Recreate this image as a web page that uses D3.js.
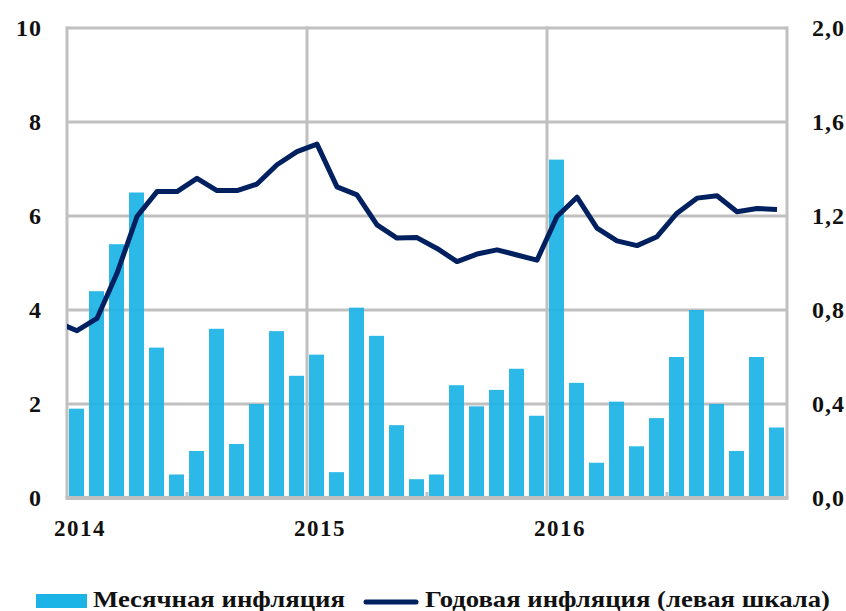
<!DOCTYPE html>
<html>
<head>
<meta charset="utf-8">
<script src="https://cdn.jsdelivr.net/npm/d3@7"></script>
<style>
  body { margin: 0; background: #fff; }
  svg text { font-family: "Liberation Serif", "DejaVu Serif", serif; font-weight: bold; fill: #111; }
</style>
</head>
<body>
<svg id="chart" width="846" height="611"></svg>
<script>
// months Jan 2014 .. Dec 2016
var months = [];
[2014, 2015, 2016].forEach(function(y) {
    for (var m = 1; m <= 12; m++) months.push(y + "-" + (m < 10 ? "0" + m : m));
});

// Monthly inflation (right scale, %)
var monthly = [0.38, 0.88, 1.08, 1.30, 0.64, 0.10, 0.20, 0.72, 0.23, 0.40, 0.71, 0.52,
               0.61, 0.11, 0.81, 0.69, 0.31, 0.08, 0.10, 0.48, 0.39, 0.46, 0.55, 0.35,
               1.44, 0.49, 0.15, 0.41, 0.22, 0.34, 0.60, 0.80, 0.40, 0.20, 0.60, 0.30];

// Annual inflation (left scale, %), starting Dec 2013
var annualStart = "2013-12";
var annual = [3.74,
              3.56, 3.82, 4.78, 5.99, 6.52, 6.52, 6.80, 6.54, 6.54, 6.68, 7.09, 7.37,
              7.53, 6.62, 6.45, 5.81, 5.53, 5.54, 5.31, 5.03, 5.19, 5.28, 5.17, 5.06,
              5.99, 6.40, 5.74, 5.47, 5.37, 5.56, 6.06, 6.38, 6.43, 6.09, 6.16, 6.14];

var leftTicks = [0, 2, 4, 6, 8, 10];
var rightTicks = [0, 0.4, 0.8, 1.2, 1.6, 2.0];
var yearLabels = ["2014", "2015", "2016"];
var legendLabels = ["Месячная инфляция", "Годовая инфляция (левая шкала)"];

var svg = d3.select("#chart");
var plotLeft = 67, plotRight = 787, plotTop = 28, plotBottom = 498;

// x as month index
var x = d3.scaleLinear().domain([0, months.length]).range([plotLeft, plotRight]);
var yL = d3.scaleLinear().domain([0, 10]).range([plotBottom, plotTop]);
var yR = d3.scaleLinear().domain([0, 2]).range([plotBottom, plotTop]);

var grid = "#c0c0c0";

// horizontal gridlines
svg.append("g").selectAll("line")
    .data(leftTicks.slice(1))
    .enter().append("line")
    .attr("x1", plotLeft).attr("x2", plotRight)
    .attr("y1", function(d) { return yL(d); })
    .attr("y2", function(d) { return yL(d); })
    .attr("stroke", grid).attr("stroke-width", 3);

// vertical lines at year boundaries (+ borders)
svg.append("g").selectAll("line")
    .data([0, 12, 24, 36])
    .enter().append("line")
    .attr("x1", function(d) { return x(d); })
    .attr("x2", function(d) { return x(d); })
    .attr("y1", plotTop - 1.5).attr("y2", plotBottom)
    .attr("stroke", grid).attr("stroke-width", 3);

// bars
svg.append("g").selectAll("rect")
    .data(monthly)
    .enter().append("rect")
    .attr("x", function(d, i) { return x(i + 0.1); })
    .attr("width", x(0.75) - x(0))
    .attr("y", function(d) { return yR(d); })
    .attr("height", function(d) { return plotBottom - yR(d); })
    .attr("fill", "#1cb4e6")
    .attr("fill-opacity", 0.93);

// bottom axis line and half-year ticks
svg.append("line")
    .attr("x1", plotLeft - 1.5).attr("x2", plotRight + 1.5)
    .attr("y1", plotBottom).attr("y2", plotBottom)
    .attr("stroke", grid).attr("stroke-width", 4);

svg.append("g").selectAll("line")
    .data([6, 18, 30])
    .enter().append("line")
    .attr("x1", function(d) { return x(d); })
    .attr("x2", function(d) { return x(d); })
    .attr("y1", plotBottom - 6).attr("y2", plotBottom)
    .attr("stroke", grid).attr("stroke-width", 3);

// annual line (clipped to the plot area)
svg.append("clipPath").attr("id", "plot-clip")
    .append("rect")
    .attr("x", plotLeft).attr("y", 0)
    .attr("width", plotRight - plotLeft).attr("height", plotBottom);

var annualLine = d3.line()
    .x(function(d, i) { return x(i - 1 + 0.5); })
    .y(function(d) { return yL(d); });

svg.append("path")
    .datum(annual)
    .attr("clip-path", "url(#plot-clip)")
    .attr("d", annualLine)
    .attr("fill", "none")
    .attr("stroke", "#002060")
    .attr("stroke-width", 5)
    .attr("stroke-linejoin", "round");

// left axis labels
svg.append("g").selectAll("text")
    .data(leftTicks)
    .enter().append("text")
    .attr("x", 42)
    .attr("y", function(d) { return yL(d); })
    .attr("dy", "0.35em")
    .attr("text-anchor", "end")
    .style("font-size", "24px")
    .style("letter-spacing", "1px")
    .text(function(d) { return d; });

// right axis labels
svg.append("g").selectAll("text")
    .data(rightTicks)
    .enter().append("text")
    .attr("x", 812)
    .attr("y", function(d) { return yR(d); })
    .attr("dy", "0.35em")
    .style("font-size", "24px")
    .style("letter-spacing", "1px")
    .text(function(d) { return d.toFixed(1).replace(".", ","); });

// year labels
svg.append("g").selectAll("text")
    .data(yearLabels)
    .enter().append("text")
    .attr("x", function(d, i) { return x(i * 12 + 0.65); })
    .attr("y", 536)
    .attr("text-anchor", "middle")
    .style("font-size", "23px")
    .style("letter-spacing", "1.5px")
    .text(function(d) { return d; });

// legend
var legend = svg.append("g");
legend.append("rect")
    .attr("x", 36).attr("y", 594).attr("width", 51).attr("height", 14)
    .attr("fill", "#1cb4e6");
legend.append("text")
    .attr("x", 93).attr("y", 607)
    .attr("textLength", 252)
    .attr("lengthAdjust", "spacingAndGlyphs")
    .style("font-size", "24px")
    .text(legendLabels[0]);
legend.append("line")
    .attr("x1", 366).attr("x2", 416).attr("y1", 602).attr("y2", 602)
    .attr("stroke", "#002060").attr("stroke-width", 5)
    .attr("stroke-linecap", "round");
legend.append("text")
    .attr("x", 425).attr("y", 607)
    .attr("textLength", 405)
    .attr("lengthAdjust", "spacingAndGlyphs")
    .style("font-size", "24px")
    .text(legendLabels[1]);
</script>
</body>
</html>
